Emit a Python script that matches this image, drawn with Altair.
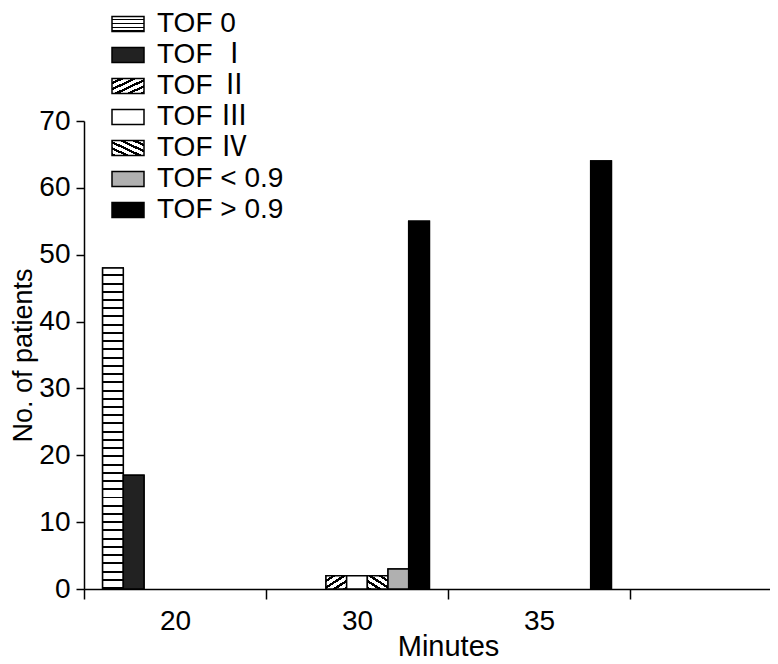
import altair as alt
import pandas as pd

# ---- data ----
minutes = ["20", "30", "35", ""]          # last band is empty in the original
series = ["TOF 0", "TOF Ⅰ", "TOF Ⅱ", "TOF Ⅲ", "TOF Ⅳ", "TOF < 0.9", "TOF > 0.9"]
counts_20 = [48, 17, 0, 0, 0, 0, 0]
counts_30 = [0, 0, 2, 2, 2, 3, 55]
counts_35 = [0, 0, 0, 0, 0, 0, 64]
y_ticks = [0, 10, 20, 30, 40, 50, 60, 70]

rows = []
for m, vals in zip(minutes[:3], [counts_20, counts_30, counts_35]):
    for s, v in zip(series, vals):
        rows.append({"minute": m, "series": s, "count": v})
df = pd.DataFrame(rows)


# ---- hatch fills built as hard-stop linear gradients ----
def stripes(n, frac, x1, y1, x2, y2, fg="black", bg="white"):
    parts = []
    p = 1.0 / n
    for i in range(n):
        o = i * p
        a = o + p * (1 - frac)
        parts += [(o, bg), (a, bg), (a, fg), (o + p, fg)]
    stops = ",".join("{offset:%.4f,color:'%s'}" % (o, c) for o, c in parts)
    return {"expr": "({gradient:'linear',x1:%s,y1:%s,x2:%s,y2:%s,stops:[%s]})"
                    % (x1, y1, x2, y2, stops)}


bar_range = [
    stripes(39, 0.24, 0, 0, 0, 1),
    "#222222",
    stripes(4, 0.42, 0, 0, 1, 1),
    "#ffffff",
    stripes(4, 0.42, 1, 0, 0, 1),
    "#b0b0b0",
    "#000000",
]
legend_range = [
    stripes(4, 0.3, 0, 0, 0, 1),
    "#222222",
    stripes(5, 0.42, 0, 0, 1, 1),
    "#ffffff",
    stripes(5, 0.42, 1, 0, 0, 1),
    "#b0b0b0",
    "#000000",
]

FONT = "Liberation Sans, Arial, 'Noto Sans CJK KR', sans-serif"

base = alt.Chart(df).transform_filter("datum.count > 0").encode(
    x=alt.X(
        "minute:N",
        sort=minutes,
        scale=alt.Scale(domain=minutes, range=[0, 728], paddingInner=0, paddingOuter=0),
        axis=alt.Axis(
            title="Minutes", labelAngle=0, tickSize=10, tickBand="extent",
            labelPadding=8, titlePadding=-3, labelFontSize=28, titleFontSize=29,
            titleFontWeight="normal", grid=False,
        ),
    ),
    xOffset=alt.XOffset(
        "series:N",
        scale=alt.Scale(domain=series, paddingInner=0, paddingOuter=0.9),
    ),
    y=alt.Y(
        "count:Q",
        scale=alt.Scale(domain=[0, 70]),
        axis=alt.Axis(
            values=y_ticks, title="No. of patients", grid=False, tickSize=8,
            labelPadding=6, titlePadding=1, labelFontSize=28, titleFontSize=27,
            titleFontWeight="normal",
        ),
    ),
)

legend_layer = base.mark_bar(stroke="black", strokeWidth=1.5).encode(
    color=alt.Color(
        "series:N",
        scale=alt.Scale(domain=series, range=legend_range),
        legend=alt.Legend(
            title=None, orient="none", legendX=27, legendY=-114,
            direction="vertical",
            symbolType="M-1,-0.47H1V0.47H-1Z", symbolSize=1024,
            symbolStrokeColor="black", symbolStrokeWidth=1.5,
            labelFont=FONT, labelFontSize=28, labelColor="black",
            labelOffset=12, rowPadding=0, padding=0, labelLimit=300,
        ),
    )
)

bar_layer = base.mark_bar(stroke="black", strokeWidth=1.5).encode(
    fill=alt.Fill(
        "series:N",
        scale=alt.Scale(domain=series, range=bar_range),
        legend=None,
    )
)

chart = (
    alt.layer(legend_layer, bar_layer)
    .properties(
        width=686,
        height=468,
        autosize=alt.AutoSizeParams(type="none"),
        padding={"left": 76, "top": 113, "right": 0, "bottom": 71},
    )
    .configure_view(stroke=None)
    .configure_axis(
        domainColor="black", domainWidth=1.5, tickColor="black", tickWidth=1.5,
        labelColor="black", titleColor="black", labelFont=FONT, titleFont=FONT,
    )
)

chart.save("out.html", embed_options={"renderer": "svg", "actions": False})
